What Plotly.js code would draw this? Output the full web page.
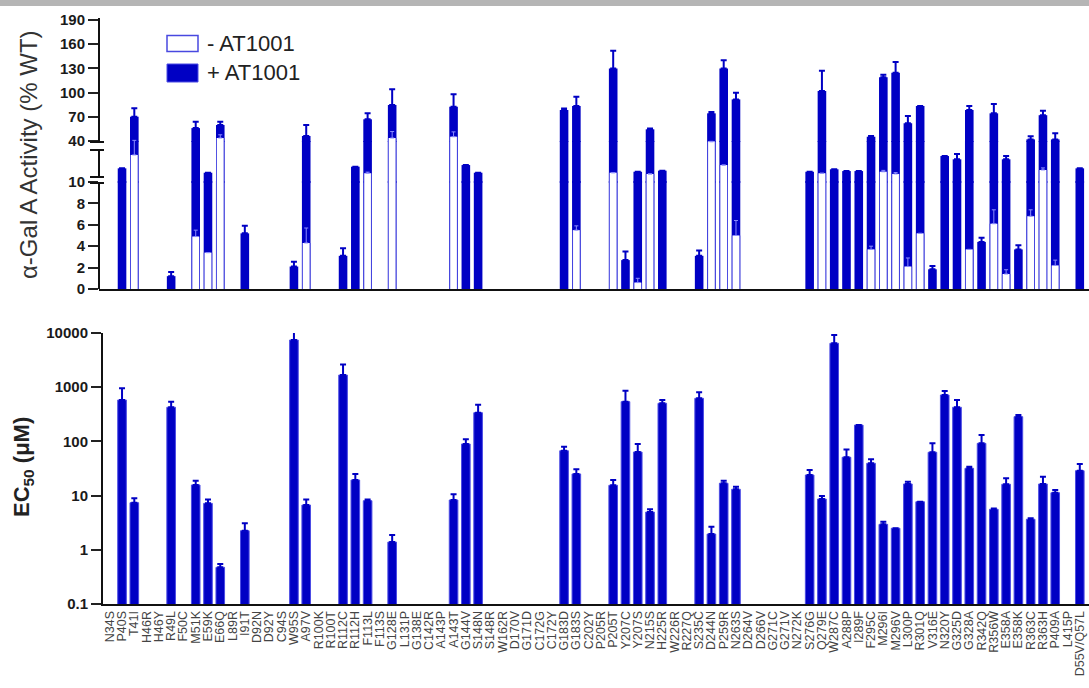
<!DOCTYPE html>
<html>
<head>
<meta charset="utf-8">
<script src="https://cdn.plot.ly/plotly-3.0.1.min.js"></script>
<style>html,body{margin:0;padding:0;overflow:hidden;background:#fff}#chart{width:1089px;height:688px}</style>
</head>
<body>
<div id="chart"></div>
<script>
const categories = ['N34S','P40S','T41I','H46R','H46Y','R49L','F50C','M51K','E59K','E66Q',
'L89R','I91T','D92N','D92Y','C94S','W95S','A97V','R100K','R100T','R112C',
'R112H','F113L','F113S','G128E','L131P','G138E','C142R','A143P','A143T','G144V',
'S148N','S148R','W162R','D170V','G171D','C172G','C172Y','G183D','G183S','C202Y',
'P205R','P205T','Y207C','Y207S','N215S','H225R','W226R','R227Q','S235C','D244N',
'P259R','N263S','D264V','D266V','G271C','G271V','N272K','S276G','Q279E','W287C',
'A288P','I289F','F295C','M296I','M296V','L300P','R301Q','V316E','N320Y','G325D',
'G328A','R342Q','R356W','E358A','E358K','R363C','R363H','P409A','L415P','D55V/Q57L'];
const n = null;
// alpha-Gal A activity (% WT), + AT1001
const galPlus = [n,20.0,70.1,n,n,1.2,n,56,16.8,59.8,
 n,5.2,n,n,n,2.1,46.2,n,n,3.1,
 21.2,66.9,n,84.6,n,n,n,n,82.5,22.4,
 16.8,n,n,n,n,n,n,78.4,83.4,n,
 n,130,2.7,17.5,54.5,18.3,n,n,3.1,74.3,
 130,91.6,n,n,n,n,n,17.5,102,19.3,
 18.0,18.0,45.3,119,124.6,62,83.4,1.84,29.0,26.6,
 78.4,4.4,74.3,26.6,3.7,42,72,42,n,20.0];
const galPlusErr = [n,0,10.4,n,n,0.4,n,8,0,4.2,
 n,0.7,n,n,n,0.45,13.6,n,n,0.7,
 0,7.4,n,19.4,n,n,n,n,15.5,0,
 0,n,n,n,n,n,n,2,11.6,n,
 n,22,0.8,0,1,0,n,n,0.5,1.5,
 10,8.3,n,n,n,n,n,0,25,0,
 0,0,1,3,13.4,9,0,0.3,0,3.9,
 5,0.4,11.7,2.4,0.4,4,5.5,7.5,n,0];
// alpha-Gal A activity (% WT), - AT1001
const galMinus = [n,n,29.8,n,n,n,n,4.9,3.4,43.7,
 n,n,n,n,n,n,4.3,n,n,n,
 n,16.4,n,43.7,n,n,n,n,45.3,n,
 n,n,n,n,n,n,n,n,5.5,n,
 n,16.8,n,0.6,15.9,n,n,n,n,39.5,
 22.4,5.0,n,n,n,n,n,n,16.4,n,
 n,n,3.7,17.5,15.9,2.1,5.2,n,n,n,
 3.7,n,6.1,1.4,n,6.8,18.8,2.2,n,n];
const galMinusErr = [n,n,11,n,n,n,n,0.6,0,4,
 n,n,n,n,n,n,1.4,n,n,n,
 n,0.8,n,8,n,n,n,n,6,n,
 n,n,n,n,n,n,n,n,0.4,n,
 n,0,n,0.4,0,n,n,n,n,0,
 0,1.4,n,n,n,n,n,n,0,n,
 n,n,0.3,1,1,0.8,0,n,n,n,
 0,n,1.3,0.4,n,0.6,1.5,0.5,n,n];
// EC50 (uM)
const ec50 = [n,581,7.4,n,n,427,n,15.7,7.2,0.475,
 n,2.25,n,n,n,7430,6.7,n,n,1680,
 19.4,8.05,n,1.39,n,n,n,n,8.3,89.6,
 339,n,n,n,n,n,n,67.3,25.1,n,
 n,15.5,541,63.7,4.98,505,n,n,624,1.95,
 16.9,13.1,n,n,n,n,n,24,8.65,6460,
 51,200,39.5,2.95,2.5,16.4,7.7,63,718,427,
 31.9,92,5.6,16.2,286,3.66,16.4,11.3,n,28.8];
const ec50Err = [n,374,1.5,n,n,110,n,3.1,1.3,0.07,
 n,0.83,n,n,n,3930,1.8,n,n,950,
 5.6,0.4,n,0.49,n,n,n,n,2.3,20,
 136,n,n,n,n,n,n,12,5.4,n,
 n,3.9,321,26,0.6,75,n,n,181,0.72,
 1.9,1.5,n,n,n,n,n,5.6,1.15,2720,
 20,0,7.3,0.35,0,1.6,0,29,133,153,
 2.1,39,0.2,4.6,20,0.15,5.9,1.4,n,9.5];

const W = 1089, H = 688;
const X = p => p / W;
const Y = p => 1 - p / H;
const BLUE = '#0000c4', EDGE = '#4c4ce4', OPEN_EDGE = '#4a4ae2';
const zeros = categories.map(() => 0);
const BW = 0.7, BW_IN = 0.54;

function plusTrace(ya) {
  return {type:'bar', x:categories, y:galPlus, xaxis:'x', yaxis:ya, width:BW,
    marker:{color:BLUE, line:{width:0}},
    error_y:{type:'data', symmetric:false, array:galPlusErr, arrayminus:zeros, color:BLUE, thickness:2, width:3},
    hoverinfo:'skip', showlegend:false};
}
function minusFrame(ya) {
  return {type:'bar', x:categories, y:galMinus, xaxis:'x', yaxis:ya, width:BW,
    marker:{color:OPEN_EDGE, line:{width:0}}, hoverinfo:'skip', showlegend:false};
}
function minusTrace(ya) {
  return {type:'bar', x:categories, y:galMinus, xaxis:'x', yaxis:ya, width:BW_IN,
    marker:{color:'#ffffff', line:{width:0}},
    error_y:{type:'data', symmetric:false, array:galMinusErr, arrayminus:zeros, color:'#8c8cff', thickness:1, width:2},
    hoverinfo:'skip', showlegend:false};
}
const traces = [];
['y','y2','y3'].forEach(ya => { traces.push(plusTrace(ya)); traces.push(minusFrame(ya)); traces.push(minusTrace(ya)); });
traces.push({type:'bar', x:categories, y:ec50, xaxis:'x2', yaxis:'y4', width:BW,
  marker:{color:BLUE, line:{color:EDGE, width:1}},
  error_y:{type:'data', symmetric:false, array:ec50Err, arrayminus:zeros, color:BLUE, thickness:2, width:3},
  hoverinfo:'skip', showlegend:false});

const tickFont = {family:'Liberation Sans, Arial, sans-serif', size:15, color:'#1a1a1a', weight:700};
const yBase = {showgrid:false, zeroline:false, ticks:'outside', ticklen:10, tickwidth:2, tickcolor:'#222',
  tickfont:tickFont, fixedrange:true};

const topL = 99, botL = 103, slot = 12.279;
// broken activity axis: 0 at 289px, 10 at 182px, 40 at 141px, 190 at 20px
const s1 = (289 - 182) / 10, s2 = (182 - 141) / 30, s3 = (141 - 20) / 150;
const layout = {
  width:W, height:H, margin:{l:0,r:0,t:0,b:0}, paper_bgcolor:'#fff', plot_bgcolor:'rgba(0,0,0,0)',
  barmode:'overlay', showlegend:false,
  xaxis:{domain:[X(topL),1], range:[-0.55 - (botL-topL)/slot, 79.75], anchor:'y', type:'category',
    categoryorder:'array', categoryarray:categories, showline:true, linewidth:2, linecolor:'#111',
    showticklabels:false, ticks:'', showgrid:false, zeroline:false},
  xaxis2:{domain:[X(botL),1], range:[-0.55, 79.75], anchor:'y4', type:'category',
    categoryorder:'array', categoryarray:categories, showline:true, linewidth:2, linecolor:'#111',
    tickmode:'array', tickvals:categories, ticktext:categories, tickangle:-90, ticks:'',
    tickfont:{family:'Liberation Sans, Arial, sans-serif', size:12.5, color:'#444'}, showgrid:false, zeroline:false},
  yaxis: Object.assign({}, yBase, {domain:[Y(289), Y(181)], range:[0, 10 + 1/s1], anchor:'x',
    tickvals:[0,2,4,6,8,10], showline:false}),
  yaxis2: Object.assign({}, yBase, {domain:[Y(183), Y(141)], range:[10 - 1/s2, 40], anchor:'x',
    showticklabels:false, ticks:'', showline:false}),
  yaxis3: Object.assign({}, yBase, {domain:[Y(142), Y(20)], range:[40 - 1/s3, 190], anchor:'x',
    tickvals:[40,70,100,130,160,190], showline:false}),
  yaxis4: Object.assign({}, yBase, {domain:[Y(604), Y(333)], range:[-1,4], anchor:'x2', type:'log',
    tickvals:[0.1,1,10,100,1000,10000], ticktext:['0.1','1','10','100','1000','10000'],
    showline:true, linewidth:2, linecolor:'#111'}),
  shapes: [
    {type:'rect', xref:'paper', yref:'paper', x0:0, x1:1, y0:Y(6), y1:1, fillcolor:'#b5b5b5', line:{width:0}, layer:'above'},
    // segmented activity axis
    {type:'line', xref:'paper', yref:'paper', x0:X(topL), x1:X(topL), y0:Y(18), y1:Y(142), line:{color:'#111', width:2}},
    {type:'line', xref:'paper', yref:'paper', x0:X(topL), x1:X(topL), y0:Y(150), y1:Y(177), line:{color:'#111', width:2}},
    {type:'line', xref:'paper', yref:'paper', x0:X(topL), x1:X(topL), y0:Y(183), y1:Y(289), line:{color:'#111', width:2}},
    {type:'line', xref:'paper', yref:'paper', x0:X(90), x1:X(104), y0:Y(142), y1:Y(142), line:{color:'#111', width:2}},
    {type:'line', xref:'paper', yref:'paper', x0:X(90), x1:X(104), y0:Y(150), y1:Y(150), line:{color:'#111', width:2}},
    {type:'line', xref:'paper', yref:'paper', x0:X(90), x1:X(104), y0:Y(177), y1:Y(177), line:{color:'#111', width:2}},
    {type:'line', xref:'paper', yref:'paper', x0:X(90), x1:X(104), y0:Y(183), y1:Y(183), line:{color:'#111', width:2}},
    // legend swatches
    {type:'rect', xref:'paper', yref:'paper', x0:X(167), x1:X(198), y0:Y(51.5), y1:Y(35.5), fillcolor:'#fff', line:{color:'#4848e0', width:1.5}},
    {type:'rect', xref:'paper', yref:'paper', x0:X(167), x1:X(198), y0:Y(82), y1:Y(64), fillcolor:BLUE, line:{color:EDGE, width:1}}
  ],
  annotations: [
    {xref:'paper', yref:'paper', x:X(205), y:Y(43.5), xanchor:'left', yanchor:'middle', showarrow:false,
      text:'- AT1001', font:{family:'Liberation Sans, Arial, sans-serif', size:22, color:'#222'}},
    {xref:'paper', yref:'paper', x:X(205), y:Y(73), xanchor:'left', yanchor:'middle', showarrow:false,
      text:'+ AT1001', font:{family:'Liberation Sans, Arial, sans-serif', size:22, color:'#222'}},
    {xref:'paper', yref:'paper', x:X(28), y:Y(155), xanchor:'center', yanchor:'middle', showarrow:false, textangle:-90,
      text:'α-Gal A Activity (% WT)', font:{family:'Liberation Sans, Arial, sans-serif', size:24, color:'#333'}},
    {xref:'paper', yref:'paper', x:X(23), y:Y(467), xanchor:'center', yanchor:'middle', showarrow:false, textangle:-90,
      text:'<b>EC<sub>50</sub> (μM)</b>', font:{family:'Liberation Sans, Arial, sans-serif', size:22, color:'#222'}}
  ]
};
Plotly.newPlot('chart', traces, layout, {staticPlot:true, displayModeBar:false});
</script>
</body>
</html>
